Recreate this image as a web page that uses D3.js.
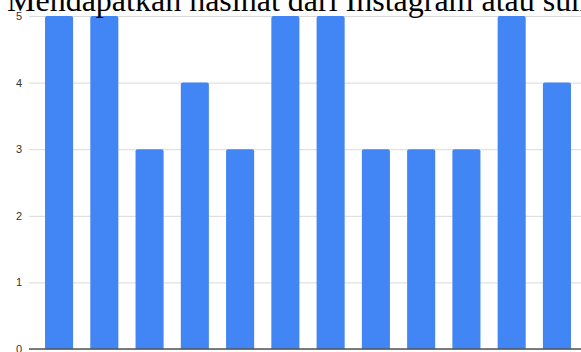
<!DOCTYPE html>
<html>
<head>
<meta charset="utf-8">
<script src="https://cdn.jsdelivr.net/npm/d3@7"></script>
<style>
  html, body { margin: 0; padding: 0; background: #fff; overflow: hidden; }
  svg { display: block; }
</style>
</head>
<body>
<svg id="chart" width="581" height="352"></svg>
<script>
// Responses per respondent (scale 0–5)
const categories = ["1", "2", "3", "4", "5", "6", "7", "8", "9", "10", "11", "12"];
const values = [5, 5, 3, 4, 3, 5, 5, 3, 3, 3, 5, 4];
const yTicks = [0, 1, 2, 3, 4, 5];
const title = "Mendapatkan nasihat dari Instagram atau sumber lain";

const width = 581, height = 352;
const svg = d3.select("#chart");

const plot = { left: 29, right: 587, top: 16, bottom: 349 };

const x = d3.scaleBand()
  .domain(categories)
  .range([plot.left, plot.right])
  .paddingInner(0.38)
  .paddingOuter(0.354);

const y = d3.scaleLinear()
  .domain([0, 5])
  .range([plot.bottom, plot.top]);

// Horizontal gridlines with tick labels on the left
const yAxis = d3.axisLeft(y)
  .tickValues(yTicks)
  .tickSize(-(width - plot.left))
  .tickPadding(7)
  .tickFormat(d3.format("d"));

const gy = svg.append("g")
  .attr("transform", `translate(${plot.left},0)`)
  .call(yAxis);
gy.select(".domain").remove();
gy.selectAll(".tick line")
  .attr("stroke", "#d9d9d9")
  .attr("stroke-width", 1);
gy.selectAll(".tick text")
  .attr("fill", "#333")
  .style("font-family", "Arial, 'Liberation Sans', sans-serif")
  .style("font-size", "11px");

// Bars with slightly rounded top corners
const r = 2;
function barPath(x0, y0, w, h) {
  return `M${x0},${y0 + h}V${y0 + r}Q${x0},${y0} ${x0 + r},${y0}` +
         `H${x0 + w - r}Q${x0 + w},${y0} ${x0 + w},${y0 + r}V${y0 + h}Z`;
}
svg.append("g")
  .selectAll("path")
  .data(values)
  .join("path")
  .attr("d", (d, i) => barPath(x(categories[i]), y(d), x.bandwidth(), y(0) - y(d)))
  .attr("fill", "#4285f4");

// Baseline
svg.append("line")
  .attr("x1", plot.left)
  .attr("x2", width)
  .attr("y1", y(0))
  .attr("y2", y(0))
  .attr("stroke", "#555")
  .attr("stroke-width", 1.5);

// Title
svg.append("text")
  .attr("x", 7)
  .attr("y", 11)
  .attr("fill", "#000")
  .style("font-family", "'Liberation Serif', 'Times New Roman', serif")
  .style("font-size", "32px")
  .text(title);
</script>
</body>
</html>
